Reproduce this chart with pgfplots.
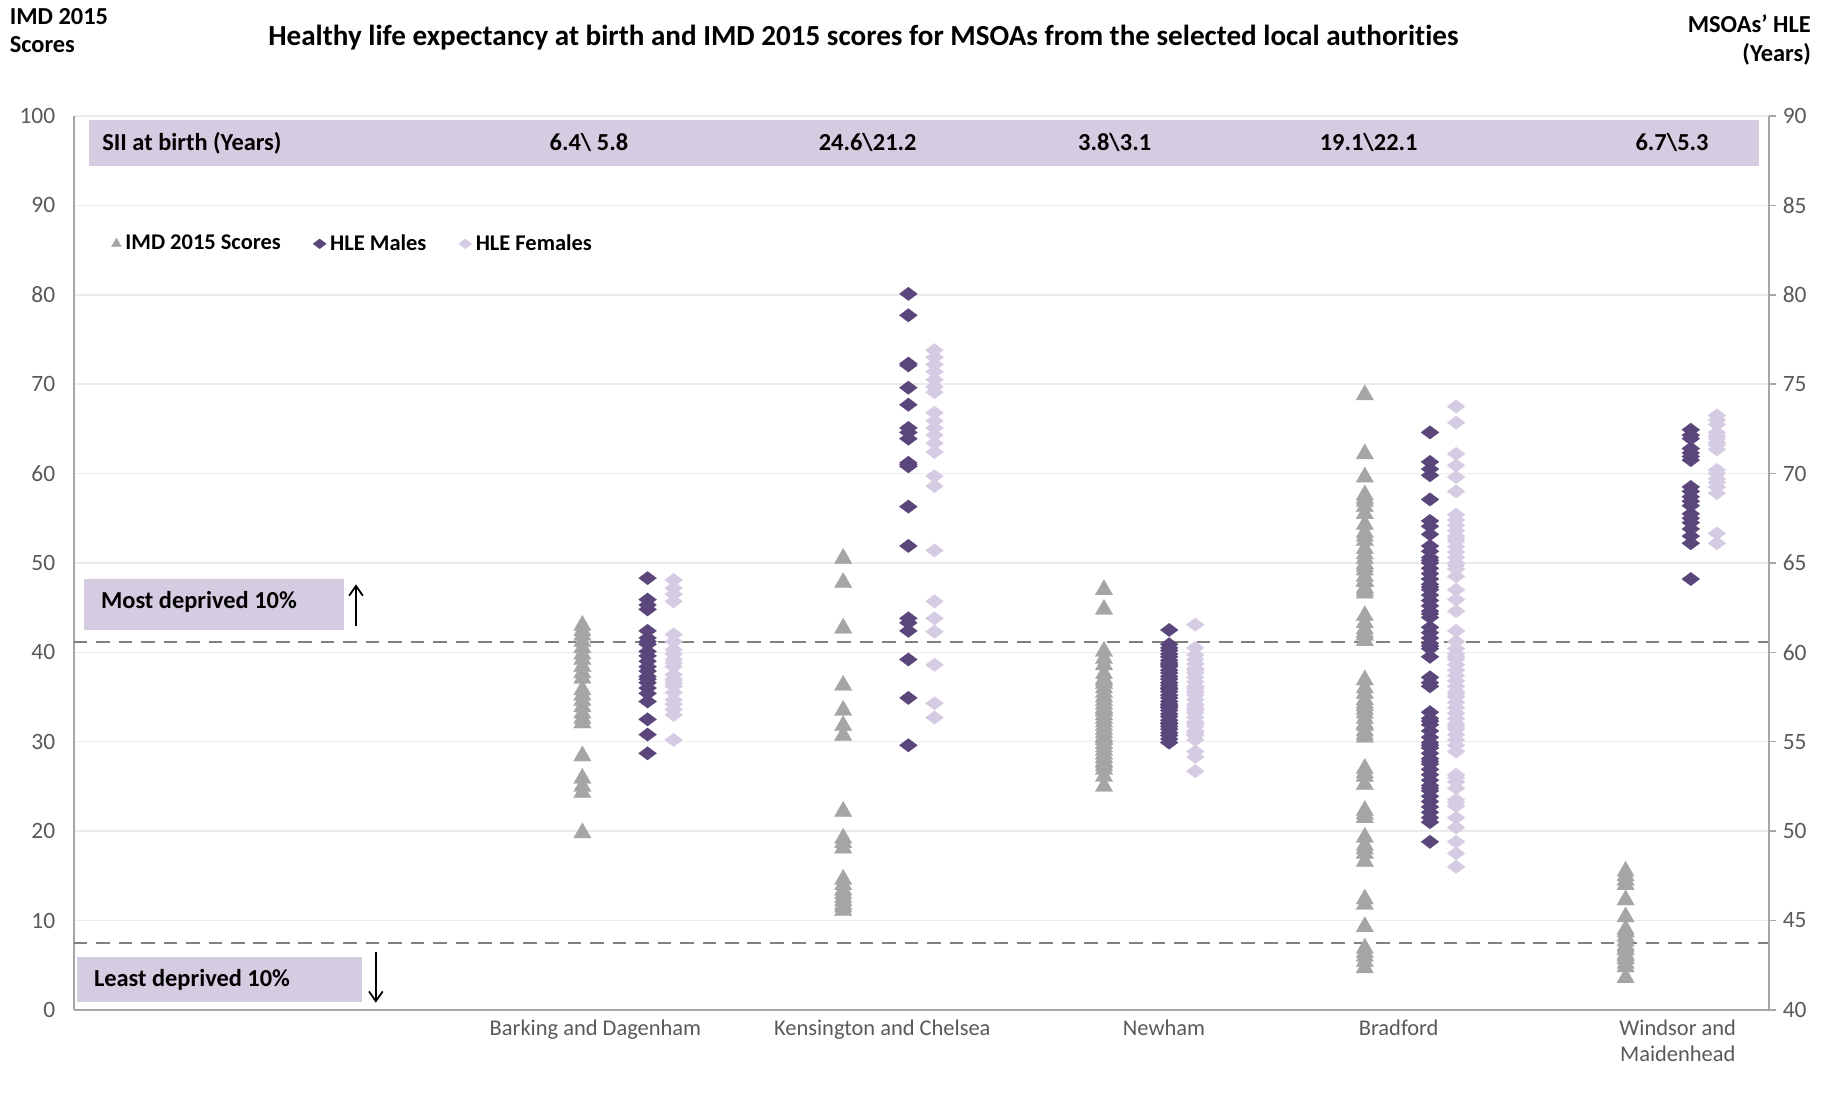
\documentclass[border=0pt]{standalone}
\usepackage{fontspec}
\setmainfont{Carlito}[Ligatures=NoCommon]
\usepackage{pgfplots}
\pgfplotsset{compat=1.18}
\usetikzlibrary{arrows.meta}

\definecolor{imdgrey}{HTML}{A5A5A5}
\definecolor{hlemale}{HTML}{5A467A}
\definecolor{hlefemale}{HTML}{D5CBE3}
\definecolor{bandfill}{HTML}{D6CCE1}
\definecolor{gridgrey}{HTML}{EBEBEB}
\definecolor{axisgrey}{HTML}{A6A6A6}
\definecolor{dashgrey}{HTML}{808080}
\definecolor{ticktext}{HTML}{595959}

\newcommand{\ticksize}{\fontsize{12}{14}\selectfont}
\newcommand{\boxsize}{\bfseries\fontsize{12.5}{14}\selectfont}

\begin{document}
\begin{tikzpicture}
\path[use as bounding box] (0,0) rectangle (940.8pt,559.8pt);

% headings above the plot area
\node[font=\bfseries\fontsize{14.9}{17}\selectfont] at (442.2pt,540.6pt)
  {Healthy life expectancy at birth and IMD 2015 scores for MSOAs from the selected local authorities};
\node[anchor=west, inner sep=0pt, font=\boxsize] at (4.8pt,551.4pt) {IMD 2015};
\node[anchor=west, inner sep=0pt, font=\boxsize] at (4.8pt,537.0pt) {Scores};
\node[anchor=east, inner sep=0pt, font=\boxsize] at (927.6pt,547.8pt) {MSOAs' HLE};
\node[anchor=east, inner sep=0pt, font=\boxsize] at (927.6pt,532.2pt) {(Years)};

% left axis: IMD 2015 scores
\begin{axis}[
  at={(37.8pt,42.6pt)}, anchor=south west,
  scale only axis, width=868.2pt, height=457.8pt,
  xmin=0, xmax=6.5, ymin=0, ymax=100,
  axis x line*=bottom, axis y line*=left,
  axis line style={draw=axisgrey, line width=0.8pt, -},
  ytick={0,10,...,100},
  ymajorgrids, grid style={draw=gridgrey, line width=0.8pt},
  xtick={2.0,3.1,4.18,5.08,6.15},
  xticklabels={Barking and Dagenham, Kensington and Chelsea, Newham, Bradford, {Windsor and\\Maidenhead}},
  xticklabel style={font=\fontsize{11.5}{13.2}\selectfont, text=ticktext, align=center, anchor=north, yshift=-1.8pt},
  yticklabel style={font=\ticksize, text=ticktext, xshift=-6pt},
  /pgf/number format/assume math mode=true,
  tick style={draw=none},
  clip=false,
  legend style={at={(axis cs:0.12,85.7)}, anchor=west, draw=none, fill=none,
    legend columns=3, font=\bfseries\fontsize{11.5}{13}\selectfont,
    /tikz/every even column/.append style={column sep=14.5pt}},
  legend cell align=left,
]

% SII banner
\fill[bandfill] (axis cs:0.058,94.4) rectangle (axis cs:6.46,99.5);
\node[anchor=west, inner sep=0pt, font=\boxsize] at (axis cs:0.108,97.0) {SII at birth (Years)};
\node[font=\boxsize] at (axis cs:1.975,97.0) {6.4\textbackslash\ 5.8};
\node[font=\boxsize] at (axis cs:3.044,97.0) {24.6\textbackslash 21.2};
\node[font=\boxsize] at (axis cs:3.991,97.0) {3.8\textbackslash 3.1};
\node[font=\boxsize] at (axis cs:4.965,97.0) {19.1\textbackslash 22.1};
\node[font=\boxsize] at (axis cs:6.128,97.0) {6.7\textbackslash 5.3};

% deprivation thresholds
\addplot[dashgrey, line width=1.1pt, dash pattern=on 7pt off 4.5pt, forget plot]
  coordinates {(0,41.2) (6.5,41.2)};
\addplot[dashgrey, line width=1.1pt, dash pattern=on 7pt off 4.5pt, forget plot]
  coordinates {(0,7.5) (6.5,7.5)};

\fill[bandfill] (axis cs:0.04,42.5) rectangle (axis cs:1.037,48.2);
\node[anchor=west, inner sep=0pt, font=\boxsize] at (axis cs:0.103,45.6) {Most deprived 10\%};
\draw[-{Straight Barb[length=5pt,width=7pt]}, line width=0.9pt] (axis cs:1.082,42.9) -- (axis cs:1.082,47.6);

\fill[bandfill] (axis cs:0.013,0.9) rectangle (axis cs:1.104,5.9);
\node[anchor=west, inner sep=0pt, font=\boxsize] at (axis cs:0.076,3.4) {Least deprived 10\%};
\draw[-{Straight Barb[length=5pt,width=7pt]}, line width=0.9pt] (axis cs:1.158,6.5) -- (axis cs:1.158,0.8);

% IMD 2015 scores
\addplot[only marks, mark=triangle*, mark size=5.2pt, color=imdgrey, mark options={line width=0.1pt},
  legend image code/.code={\draw[mark=triangle*, mark size=3pt, color=imdgrey] plot coordinates {(0pt,0pt)};}]
coordinates {
 (1.95,43.0) (1.95,42.4) (1.95,41.9) (1.95,41.2) (1.95,40.5) (1.95,39.8) (1.95,39.2) (1.95,38.4)
 (1.95,37.7) (1.95,37.1) (1.95,35.8) (1.95,35.2) (1.95,34.6) (1.95,33.9) (1.95,33.2) (1.95,32.6)
 (1.95,32.1) (1.95,28.4) (1.95,25.9) (1.95,25.0) (1.95,24.3) (1.95,19.8)
 (2.95,50.5) (2.95,47.8) (2.95,42.7) (2.95,36.3) (2.95,33.5) (2.95,31.8) (2.95,30.7) (2.95,22.2)
 (2.95,19.2) (2.95,18.7) (2.95,18.1) (2.95,14.6) (2.95,14.0) (2.95,13.4) (2.95,13.0) (2.95,12.6)
 (2.95,12.2) (2.95,11.8) (2.95,11.5) (2.95,11.1)
 (3.95,47.0) (3.95,44.8) (3.95,40.1) (3.95,39.3) (3.95,38.6) (3.95,37.6) (3.95,37.0) (3.95,36.8)
 (3.95,36.5) (3.95,36.0) (3.95,35.5) (3.95,35.0) (3.95,34.6) (3.95,34.2) (3.95,33.8) (3.95,33.6)
 (3.95,33.4) (3.95,33.0) (3.95,32.6) (3.95,32.2) (3.95,31.8) (3.95,31.4) (3.95,31.0) (3.95,30.6)
 (3.95,30.4) (3.95,30.2) (3.95,29.8) (3.95,29.4) (3.95,29.0) (3.95,28.6) (3.95,28.2) (3.95,27.8)
 (3.95,27.6) (3.95,27.3) (3.95,26.9) (3.95,26.1) (3.95,25.0)
 (4.95,68.8) (4.95,62.2) (4.95,59.6) (4.95,57.6) (4.95,57.2) (4.95,56.9) (4.95,56.3) (4.95,55.5)
 (4.95,54.3) (4.95,53.4) (4.95,53.0) (4.95,52.5) (4.95,51.6) (4.95,51.0) (4.95,50.5) (4.95,49.9)
 (4.95,49.6) (4.95,49.2) (4.95,48.5) (4.95,48.0) (4.95,47.9) (4.95,47.2) (4.95,46.9) (4.95,46.6)
 (4.95,44.1) (4.95,43.3) (4.95,42.6) (4.95,42.2) (4.95,41.9) (4.95,41.3) (4.95,36.9) (4.95,36.0)
 (4.95,35.4) (4.95,34.7) (4.95,34.3) (4.95,34.0) (4.95,33.6) (4.95,33.2) (4.95,32.6) (4.95,32.0)
 (4.95,31.8) (4.95,31.2) (4.95,30.8) (4.95,30.5) (4.95,27.0) (4.95,26.5) (4.95,26.1) (4.95,25.2)
 (4.95,22.3) (4.95,21.9) (4.95,21.5) (4.95,19.3) (4.95,18.4) (4.95,18.0) (4.95,17.5) (4.95,16.6)
 (4.95,12.4) (4.95,11.8) (4.95,9.3) (4.95,6.9) (4.95,6.4) (4.95,6.0) (4.95,5.4) (4.95,4.7)
 (5.95,15.5) (5.95,15.0) (5.95,14.5) (5.95,14.0) (5.95,12.3) (5.95,10.4) (5.95,9.0) (5.95,8.7)
 (5.95,8.2) (5.95,7.7) (5.95,7.2) (5.95,7.0) (5.95,6.7) (5.95,6.2) (5.95,6.0) (5.95,5.7)
 (5.95,5.2) (5.95,4.8) (5.95,3.6)
};
\addlegendentry{IMD 2015 Scores}

% HLE males (left-axis units: 2 x (years - 40))
\addplot[only marks, mark=diamond*, mark size=4.6pt, color=hlemale, mark options={rotate=90, line width=0.1pt},
  legend image code/.code={\draw[mark=diamond*, mark size=3.4pt, color=hlemale] plot coordinates {(0pt,0pt)};}]
coordinates {
 (2.2,48.3) (2.2,45.9) (2.2,45.3) (2.2,44.8) (2.2,42.4) (2.2,41.6) (2.2,41.2) (2.2,40.9)
 (2.2,40.1) (2.2,39.6) (2.2,39.0) (2.2,38.4) (2.2,37.9) (2.2,37.3) (2.2,37.0) (2.2,36.6)
 (2.2,36.0) (2.2,35.4) (2.2,34.5) (2.2,32.5) (2.2,30.8) (2.2,28.7)
 (3.2,80.1) (3.2,77.7) (3.2,72.3) (3.2,72.1) (3.2,69.6) (3.2,67.7) (3.2,65.1) (3.2,64.6)
 (3.2,63.9) (3.2,61.2) (3.2,61.0) (3.2,60.8) (3.2,56.3) (3.2,51.9) (3.2,43.8) (3.2,43.3)
 (3.2,42.4) (3.2,39.2) (3.2,34.9) (3.2,29.6)
 (4.2,42.5) (4.2,40.9) (4.2,40.5) (4.2,40.2) (4.2,39.8) (4.2,39.5) (4.2,39.1) (4.2,38.8)
 (4.2,38.6) (4.2,38.4) (4.2,38.0) (4.2,37.7) (4.2,37.3) (4.2,37.0) (4.2,36.6) (4.2,36.3)
 (4.2,36.0) (4.2,35.9) (4.2,35.6) (4.2,35.2) (4.2,34.9) (4.2,34.5) (4.2,34.2) (4.2,34.0)
 (4.2,33.8) (4.2,33.5) (4.2,33.1) (4.2,32.8) (4.2,32.4) (4.2,32.1) (4.2,32.0) (4.2,31.7)
 (4.2,31.4) (4.2,31.0) (4.2,30.7) (4.2,30.3) (4.2,29.9)
 (5.2,64.6) (5.2,61.3) (5.2,60.5) (5.2,59.8) (5.2,57.1) (5.2,54.7) (5.2,54.1) (5.2,53.2)
 (5.2,51.9) (5.2,51.3) (5.2,50.6) (5.2,50.3) (5.2,50.0) (5.2,49.4) (5.2,48.8) (5.2,48.2)
 (5.2,47.6) (5.2,47.3) (5.2,47.0) (5.2,46.4) (5.2,45.8) (5.2,45.2) (5.2,44.6) (5.2,44.3)
 (5.2,43.9) (5.2,42.8) (5.2,42.2) (5.2,41.6) (5.2,41.0) (5.2,40.7) (5.2,40.4) (5.2,39.5)
 (5.2,37.2) (5.2,36.6) (5.2,36.2) (5.2,33.3) (5.2,32.6) (5.2,32.3) (5.2,31.9) (5.2,31.2)
 (5.2,30.5) (5.2,29.9) (5.2,29.6) (5.2,29.3) (5.2,28.7) (5.2,28.1) (5.2,27.8) (5.2,27.5)
 (5.2,26.9) (5.2,26.3) (5.2,25.7) (5.2,25.1) (5.2,24.8) (5.2,24.5) (5.2,23.9) (5.2,23.3)
 (5.2,22.7) (5.2,22.1) (5.2,21.5) (5.2,21.0) (5.2,18.8)
 (6.2,64.9) (6.2,64.3) (6.2,63.9) (6.2,62.8) (6.2,62.3) (6.2,61.9) (6.2,61.5) (6.2,58.5)
 (6.2,58.0) (6.2,57.4) (6.2,56.9) (6.2,56.4) (6.2,55.5) (6.2,55.0) (6.2,54.5) (6.2,53.8)
 (6.2,53.0) (6.2,52.2) (6.2,48.2)
};
\addlegendentry{HLE Males}

% HLE females (left-axis units: 2 x (years - 40))
\addplot[only marks, mark=diamond*, mark size=4.6pt, color=hlefemale, mark options={rotate=90, line width=0.1pt},
  legend image code/.code={\draw[mark=diamond*, mark size=3.4pt, color=hlefemale] plot coordinates {(0pt,0pt)};}]
coordinates {
 (2.3,48.1) (2.3,47.2) (2.3,46.5) (2.3,45.7) (2.3,42.0) (2.3,41.2) (2.3,40.3) (2.3,39.8)
 (2.3,39.2) (2.3,38.8) (2.3,38.4) (2.3,37.5) (2.3,37.0) (2.3,36.8) (2.3,36.5) (2.3,36.2)
 (2.3,35.5) (2.3,34.7) (2.3,34.2) (2.3,33.6) (2.3,33.0) (2.3,30.2)
 (3.3,73.8) (3.3,73.0) (3.3,72.2) (3.3,71.4) (3.3,70.5) (3.3,69.7) (3.3,69.1) (3.3,66.8)
 (3.3,65.9) (3.3,65.1) (3.3,64.3) (3.3,63.4) (3.3,62.4) (3.3,59.7) (3.3,58.6) (3.3,51.4)
 (3.3,45.7) (3.3,43.8) (3.3,42.3) (3.3,38.6) (3.3,34.3) (3.3,32.7)
 (4.3,43.1) (4.3,40.5) (4.3,39.7) (4.3,39.2) (4.3,38.7) (4.3,38.2) (4.3,38.0) (4.3,37.7)
 (4.3,37.2) (4.3,36.7) (4.3,36.2) (4.3,36.0) (4.3,35.7) (4.3,35.5) (4.3,35.2) (4.3,34.7)
 (4.3,34.2) (4.3,34.0) (4.3,33.7) (4.3,33.5) (4.3,33.2) (4.3,32.7) (4.3,32.2) (4.3,32.0)
 (4.3,31.7) (4.3,31.2) (4.3,31.0) (4.3,30.7) (4.3,30.2) (4.3,28.9) (4.3,28.3) (4.3,26.7)
 (5.3,67.5) (5.3,65.7) (5.3,62.2) (5.3,60.9) (5.3,59.6) (5.3,58.0) (5.3,55.4) (5.3,54.8)
 (5.3,54.2) (5.3,53.6) (5.3,53.0) (5.3,52.7) (5.3,52.4) (5.3,51.8) (5.3,51.2) (5.3,50.6)
 (5.3,50.0) (5.3,49.7) (5.3,49.3) (5.3,48.5) (5.3,47.0) (5.3,45.9) (5.3,44.6) (5.3,42.4)
 (5.3,41.2) (5.3,40.4) (5.3,39.8) (5.3,39.5) (5.3,39.2) (5.3,38.6) (5.3,38.0) (5.3,37.4)
 (5.3,36.8) (5.3,36.2) (5.3,35.6) (5.3,35.3) (5.3,35.0) (5.3,34.4) (5.3,33.8) (5.3,33.2)
 (5.3,32.6) (5.3,32.0) (5.3,31.7) (5.3,31.4) (5.3,30.8) (5.3,30.2) (5.3,29.6) (5.3,28.9)
 (5.3,26.3) (5.3,26.0) (5.3,25.5) (5.3,24.8) (5.3,23.5) (5.3,23.2) (5.3,22.8) (5.3,21.5)
 (5.3,20.4) (5.3,18.8) (5.3,17.5) (5.3,16.0)
 (6.3,66.5) (6.3,66.0) (6.3,65.5) (6.3,64.6) (6.3,64.2) (6.3,63.9) (6.3,63.5) (6.3,63.2)
 (6.3,62.7) (6.3,60.4) (6.3,60.0) (6.3,59.4) (6.3,59.0) (6.3,58.5) (6.3,57.8) (6.3,53.3)
 (6.3,52.2)
};
\addlegendentry{HLE Females}
\end{axis}

% right axis: MSOAs' healthy life expectancy in years
\begin{axis}[
  at={(37.8pt,42.6pt)}, anchor=south west,
  scale only axis, width=868.2pt, height=457.8pt,
  xmin=0, xmax=6.5, ymin=40, ymax=90,
  axis y line*=right, axis x line=none,
  axis line style={draw=axisgrey, line width=0.8pt, -},
  ytick={40,45,...,90},
  tick align=outside, major tick length=3.5pt,
  ytick style={draw=axisgrey, line width=0.8pt},
  yticklabel style={font=\ticksize, text=ticktext},
  /pgf/number format/assume math mode=true,
]
\end{axis}
\end{tikzpicture}
\end{document}
